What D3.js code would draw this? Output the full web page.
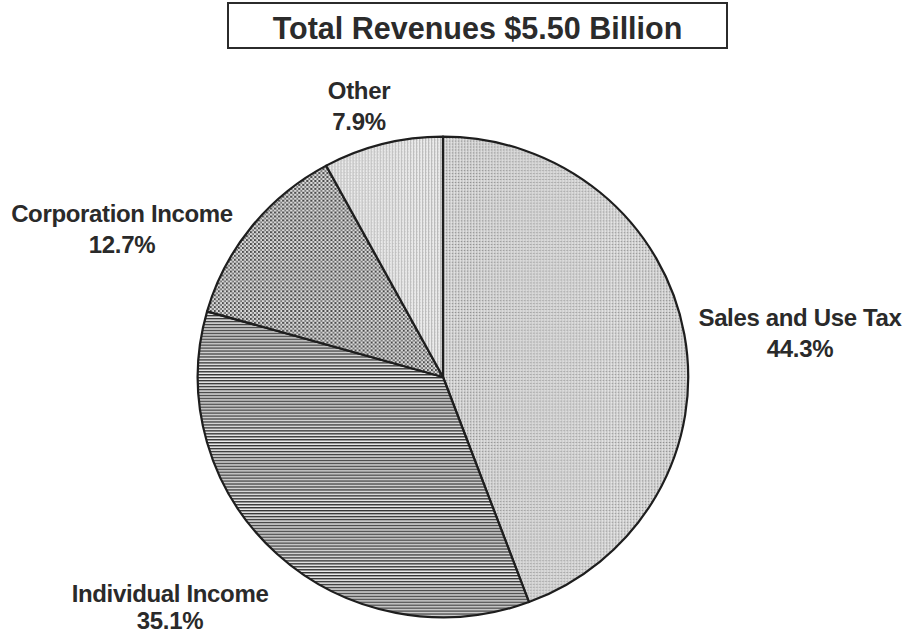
<!DOCTYPE html>
<html>
<head>
<meta charset="utf-8">
<script src="https://cdn.jsdelivr.net/npm/d3@7/dist/d3.min.js"></script>
<style>
  html, body { margin: 0; padding: 0; background: #fff; }
  svg { display: block; font-family: "Liberation Sans", Arial, sans-serif; }
</style>
</head>
<body>
<svg id="chart" width="906" height="635"></svg>
<script>
// Revenue shares by source, in percent
const categories = ["Sales and Use Tax", "Individual Income", "Corporation Income", "Other"];
const shares = [44.3, 35.1, 12.7, 7.9];
const shareLabels = ["44.3%", "35.1%", "12.7%", "7.9%"];
const title = "Total Revenues $5.50 Billion";

const svg = d3.select("#chart");
const defs = svg.append("defs");

// Fill patterns for each slice
function pattern(id, w, h, bg, draw) {
  const p = defs.append("pattern")
    .attr("id", id).attr("patternUnits", "userSpaceOnUse")
    .attr("width", w).attr("height", h);
  p.append("rect").attr("width", w).attr("height", h).attr("fill", bg);
  draw(p);
}
// fine grey stipple
pattern("pSales", 3, 3, "#cdcdcd", p => {
  p.append("rect").attr("x", 0).attr("y", 0).attr("width", 1).attr("height", 1).attr("fill", "#8f8f8f");
  p.append("rect").attr("x", 2).attr("y", 1).attr("width", 1).attr("height", 2).attr("fill", "#e6e6e6");
});
// horizontal hatch
pattern("pIndividual", 4, 3, "#ececec", p => {
  p.append("rect").attr("x", 0).attr("y", 0).attr("width", 4).attr("height", 1).attr("fill", "#333");
  p.append("rect").attr("x", 0).attr("y", 1).attr("width", 4).attr("height", 1).attr("fill", "#9a9a9a");
});
// checker dots
pattern("pCorporation", 4, 4, "#dcdcdc", p => {
  p.append("rect").attr("x", 0).attr("y", 0).attr("width", 2).attr("height", 2).attr("fill", "#4a4a4a");
  p.append("rect").attr("x", 2).attr("y", 2).attr("width", 2).attr("height", 2).attr("fill", "#7a7a7a");
});
// faint vertical lines
pattern("pOther", 3, 3, "#ebebeb", p => {
  p.append("rect").attr("x", 0).attr("y", 0).attr("width", 1).attr("height", 3).attr("fill", "#b4b4b4");
  p.append("rect").attr("x", 1).attr("y", 2).attr("width", 1).attr("height", 1).attr("fill", "#c4c4c4");
});
const fills = ["url(#pSales)", "url(#pIndividual)", "url(#pCorporation)", "url(#pOther)"];

// Title box
const titleBox = { x: 228, y: 3, w: 499, h: 45 };
svg.append("rect")
  .attr("x", titleBox.x).attr("y", titleBox.y)
  .attr("width", titleBox.w).attr("height", titleBox.h)
  .attr("fill", "#fff").attr("stroke", "#2b2b2b").attr("stroke-width", 2);
svg.append("text")
  .attr("x", titleBox.x + titleBox.w / 2).attr("y", 39)
  .attr("text-anchor", "middle")
  .attr("font-size", 30.5).attr("font-weight", "bold").attr("fill", "#2b2b2b")
  .text(title);

// Pie
const cx = 443, cy = 377, r = 244;
const pie = d3.pie().sort(null).value(d => d)(shares);
const arc = d3.arc().innerRadius(0).outerRadius(r);

const g = svg.append("g").attr("transform", `translate(${cx},${cy}) scale(1.005,0.985)`);
g.selectAll("path.slice")
  .data(pie)
  .join("path")
  .attr("class", "slice")
  .attr("d", arc)
  .attr("fill", (d, i) => fills[i])
  .attr("stroke", "#1e1e1e")
  .attr("stroke-width", 2.2)
  .attr("stroke-linejoin", "round");

// Labels: name on the first line, share below
const labelPos = [
  { x: 800, y: 326, dy: 31 },
  { x: 170, y: 602, dy: 27 },
  { x: 122, y: 222, dy: 31 },
  { x: 359, y: 99, dy: 31 }
];
const lab = svg.append("g")
  .attr("font-size", 24).attr("font-weight", "bold").attr("fill", "#2a2a2a")
  .attr("letter-spacing", -0.35)
  .attr("text-anchor", "middle");
categories.forEach((c, i) => {
  const p = labelPos[i];
  const t = lab.append("text").attr("x", p.x).attr("y", p.y);
  t.append("tspan").attr("x", p.x).text(c);
  t.append("tspan").attr("x", p.x).attr("dy", p.dy).text(shareLabels[i]);
});
</script>
</body>
</html>
